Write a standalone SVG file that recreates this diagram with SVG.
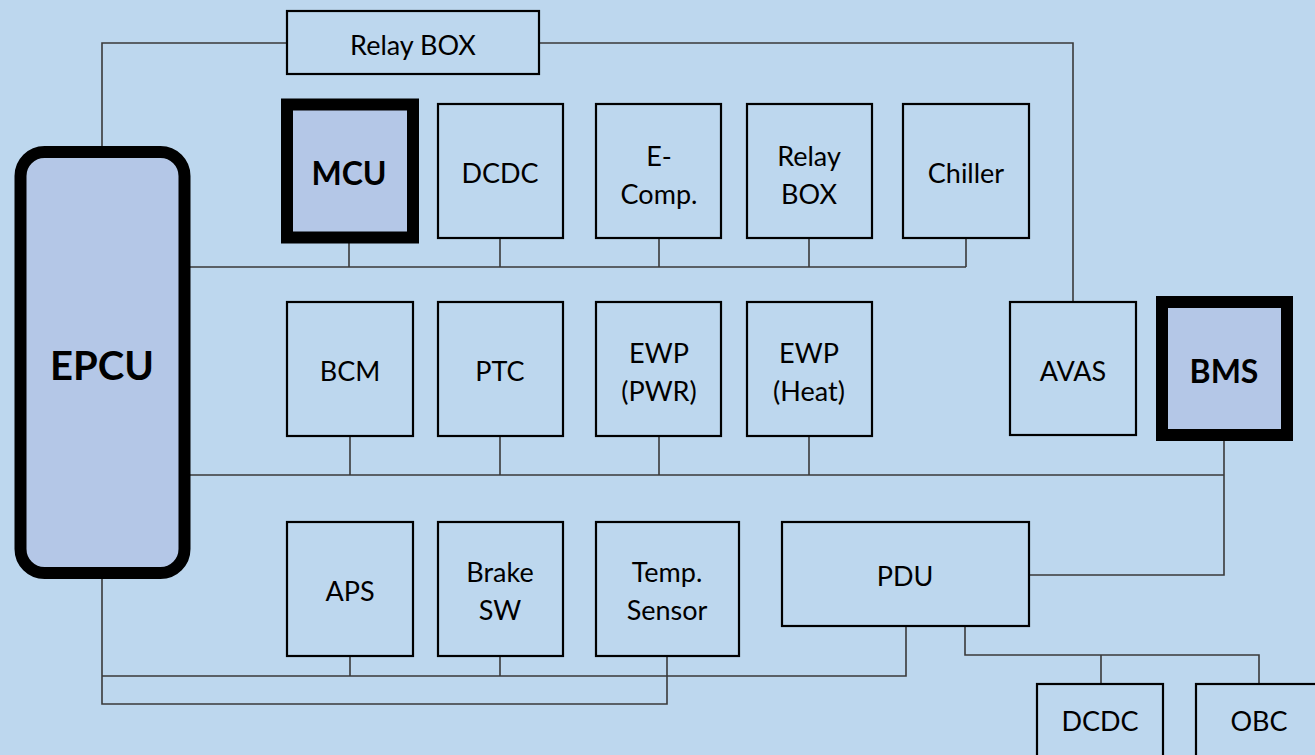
<svg xmlns="http://www.w3.org/2000/svg" width="1315" height="755" viewBox="0 0 1315 755">
<style>
.box{fill:#BDD7EE;stroke:#000;stroke-width:2.2}
.hi{fill:#B4C7E7;stroke:#000;stroke-width:12}
.t{font-family:Lato,"Liberation Sans",sans-serif;font-size:27px;fill:#000;text-anchor:middle;dominant-baseline:central}
.b{font-weight:bold;font-size:32px}
.c{fill:none;stroke:#3a3a3a;stroke-width:1.6}
</style>
<rect width="1315" height="755" fill="#BDD7EE"/>
<g id="connectors">
<path class="c" d="M102,152 V43 H287 M539,43 H1073 V302"/>
<path class="c" d="M184,267 H966 M349,237 V267 M500,238 V267 M659,238 V267 M809,238 V267 M966,238 V267"/>
<path class="c" d="M184,475 H1224 M350,436 V475 M500,436 V475 M659,436 V475 M809,436 V475 M1224,441 V575 H1029"/>
<path class="c" d="M102,578 V704 H667 V656 M102,676 H906 V626 M350,656 V676 M500,656 V676"/>
<path class="c" d="M965,626 V655 H1259 V684 M1101,655 V684"/>
</g>
<g id="relaybox-top"><rect class="box" x="287" y="11" width="252" height="63"/><text class="t" x="413" y="44">Relay BOX</text></g>
<g id="epcu"><rect class="hi" x="20.5" y="152" width="164" height="421" rx="24"/><text class="t b" x="102" y="365" style="font-size:40px">EPCU</text></g>
<g id="mcu"><rect class="hi" x="287" y="104.5" width="126" height="133"/><text class="t b" x="349" y="172">MCU</text></g>
<g id="dcdc1"><rect class="box" x="438" y="104" width="125" height="134"/><text class="t" x="500" y="172">DCDC</text></g>
<g id="ecomp"><rect class="box" x="596" y="104" width="125" height="134"/><text class="t" x="659" y="155">E-</text><text class="t" x="659" y="193">Comp.</text></g>
<g id="relaybox2"><rect class="box" x="747" y="104" width="125" height="134"/><text class="t" x="809" y="155">Relay</text><text class="t" x="809" y="193">BOX</text></g>
<g id="chiller"><rect class="box" x="903" y="104" width="126" height="134"/><text class="t" x="966" y="172">Chiller</text></g>
<g id="bcm"><rect class="box" x="287" y="302" width="126" height="134"/><text class="t" x="350" y="370">BCM</text></g>
<g id="ptc"><rect class="box" x="438" y="302" width="125" height="134"/><text class="t" x="500" y="370">PTC</text></g>
<g id="ewp-pwr"><rect class="box" x="596" y="302" width="125" height="134"/><text class="t" x="659" y="352">EWP</text><text class="t" x="659" y="390">(PWR)</text></g>
<g id="ewp-heat"><rect class="box" x="747" y="302" width="125" height="134"/><text class="t" x="809" y="352">EWP</text><text class="t" x="809" y="390">(Heat)</text></g>
<g id="avas"><rect class="box" x="1010" y="302" width="126" height="133"/><text class="t" x="1073" y="370">AVAS</text></g>
<g id="bms"><rect class="hi" x="1162" y="302" width="125" height="133"/><text class="t b" x="1224" y="370">BMS</text></g>
<g id="aps"><rect class="box" x="287" y="522" width="126" height="134"/><text class="t" x="350" y="590">APS</text></g>
<g id="brakesw"><rect class="box" x="438" y="522" width="125" height="134"/><text class="t" x="500" y="571">Brake</text><text class="t" x="500" y="609">SW</text></g>
<g id="tempsensor"><rect class="box" x="596" y="522" width="143" height="134"/><text class="t" x="667" y="571">Temp.</text><text class="t" x="667" y="609">Sensor</text></g>
<g id="pdu"><rect class="box" x="782" y="522" width="247" height="104"/><text class="t" x="905" y="575">PDU</text></g>
<g id="dcdc2"><rect class="box" x="1037" y="684" width="126" height="80"/><text class="t" x="1100" y="720">DCDC</text></g>
<g id="obc"><rect class="box" x="1196" y="684" width="130" height="80"/><text class="t" x="1259" y="720">OBC</text></g>
</svg>
